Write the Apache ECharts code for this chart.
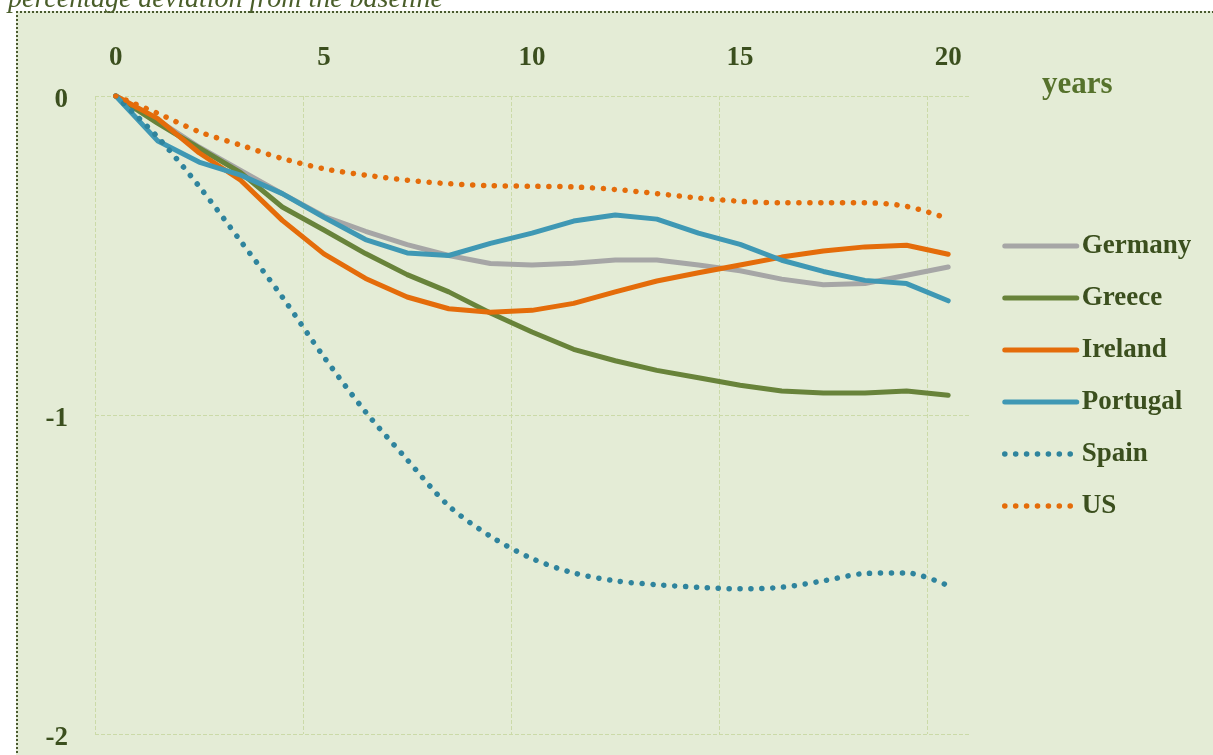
<!DOCTYPE html>
<html lang="en">

<head>
    <meta charset="UTF-8">
    <title>percentage deviation from the baseline</title>
    <script src="https://cdn.jsdelivr.net/npm/echarts@6/dist/echarts.min.js"></script>
    <style>
        html, body {
            margin: 0;
            padding: 0;
            background: #ffffff;
        }
        .panel {
            position: absolute;
            left: 16px;
            top: 11px;
            width: 1300px;
            height: 800px;
            background-color: #e4ecd6;
            border-left: 2px dotted #4a5a30;
            border-top: 2px dotted #4a5a30;
        }
        .box {
            position: absolute;
            left: 0;
            top: 0;
            width: 1213px;
            height: 755px;
        }
    </style>
</head>

<body>
    <div class="panel"></div>
    <div class="box"></div>

    <script>
        // data
        var years = ['0', '1', '2', '3', '4', '5', '6', '7', '8', '9', '10',
            '11', '12', '13', '14', '15', '16', '17', '18', '19', '20'];
        var germany = [0, -0.075, -0.16, -0.233, -0.306, -0.377, -0.424, -0.466, -0.50, -0.525, -0.53,
            -0.524, -0.514, -0.514, -0.53, -0.548, -0.574, -0.592, -0.588, -0.562, -0.536];
        var greece = [0, -0.085, -0.163, -0.24, -0.348, -0.42, -0.494, -0.56, -0.614, -0.68, -0.74,
            -0.794, -0.83, -0.86, -0.883, -0.907, -0.925, -0.931, -0.931, -0.925, -0.938];
        var ireland = [0, -0.07, -0.178, -0.264, -0.39, -0.495, -0.572, -0.63, -0.667, -0.678, -0.672,
            -0.65, -0.614, -0.58, -0.554, -0.53, -0.505, -0.486, -0.473, -0.468, -0.496];
        var portugal = [0, -0.14, -0.207, -0.248, -0.306, -0.38, -0.45, -0.492, -0.5, -0.462, -0.43,
            -0.392, -0.373, -0.386, -0.43, -0.465, -0.515, -0.55, -0.578, -0.588, -0.642];
        var spain = [0, -0.128, -0.283, -0.455, -0.63, -0.818, -0.99, -1.14, -1.285, -1.38, -1.45,
            -1.495, -1.52, -1.532, -1.54, -1.545, -1.54, -1.52, -1.497, -1.495, -1.535];
        var us = [0, -0.054, -0.112, -0.154, -0.196, -0.228, -0.248, -0.264, -0.275, -0.281, -0.283,
            -0.285, -0.293, -0.306, -0.32, -0.33, -0.335, -0.335, -0.335, -0.346, -0.384];

        var font = "'Liberation Serif', serif";
        var labelColor = '#3b4f1e';
        var gridColor = '#cbdaa8';

        function solid(name, data, color) {
            return {
                name: name,
                type: 'line',
                data: data,
                symbol: 'none',
                lineStyle: { color: color, width: 5, cap: 'round', join: 'round' },
                itemStyle: { color: color }
            };
        }

        function dotted(name, data, color) {
            return {
                name: name,
                type: 'line',
                data: data,
                symbol: 'none',
                smooth: 0.3,
                lineStyle: { color: color, width: 5.5, cap: 'round', type: [0.1, 10.8] },
                itemStyle: { color: color }
            };
        }

        var myChart = echarts.init(document.querySelector('.box'));

        var option = {
            animation: false,
            backgroundColor: 'transparent',
            grid: {
                left: 95,
                top: 96,
                right: 244,
                bottom: 21
            },
            xAxis: {
                type: 'category',
                position: 'top',
                data: years,
                boundaryGap: true,
                axisLine: { show: false },
                axisTick: { show: false, interval: 4 },
                axisLabel: {
                    interval: 4,
                    margin: 24,
                    color: labelColor,
                    fontFamily: font,
                    fontWeight: 'bold',
                    fontSize: 27
                },
                splitLine: {
                    show: true,
                    interval: 4,
                    // no gridline on the closing right edge
                    showMaxLine: false,
                    lineStyle: { color: gridColor, type: [4, 2], width: 1 }
                }
            },
            yAxis: {
                type: 'value',
                min: -2,
                max: 0,
                interval: 1,
                axisLine: { show: false },
                axisTick: { show: false },
                axisLabel: {
                    margin: 27,
                    verticalAlign: 'top',
                    lineHeight: 8,
                    color: labelColor,
                    fontFamily: font,
                    fontWeight: 'bold',
                    fontSize: 27
                },
                splitLine: {
                    lineStyle: { color: gridColor, type: [4, 2], width: 1 }
                }
            },
            legend: {
                orient: 'vertical',
                left: 997,
                top: 226,
                itemWidth: 72,
                itemHeight: 14,
                itemGap: 22,
                itemStyle: { opacity: 0 },
                lineStyle: { width: 'inherit', cap: 'round' },
                textStyle: {
                    color: labelColor,
                    fontFamily: font,
                    fontWeight: 'bold',
                    fontSize: 27,
                    lineHeight: 30
                },
                data: ['Germany', 'Greece', 'Ireland', 'Portugal', 'Spain', 'US']
            },
            graphic: [{
                type: 'text',
                left: 1042,
                top: 69,
                style: {
                    text: 'years',
                    fill: '#56722c',
                    font: "bold 31px 'Liberation Serif', serif"
                }
            }, {
                type: 'text',
                x: 8,
                y: -14,
                style: {
                    text: 'percentage deviation from the baseline',
                    fill: '#4a5e2a',
                    font: "italic 28px 'Liberation Serif', serif"
                }
            }],
            series: [
                solid('Germany', germany, '#a6a6a6'),
                solid('Greece', greece, '#68833a'),
                solid('Ireland', ireland, '#e46c0a'),
                solid('Portugal', portugal, '#3f98b4'),
                dotted('Spain', spain, '#2f849d'),
                dotted('US', us, '#e46c0a')
            ]
        };

        myChart.setOption(option);
    </script>
</body>

</html>
